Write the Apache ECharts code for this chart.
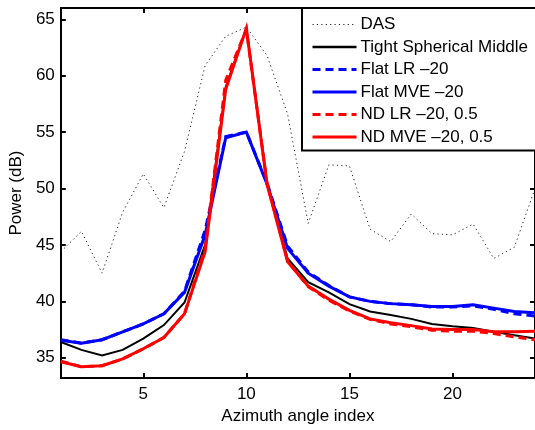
<!DOCTYPE html>
<html>
<head>
<meta charset="utf-8">
<script src="https://cdn.jsdelivr.net/npm/echarts@6/dist/echarts.min.js"></script>
<style>
html,body{margin:0;padding:0;background:#fff;}
#c{width:535px;height:430px;}
</style>
</head>
<body>
<div id="c"></div>
<script>
// ---- data ----
const azimuthIndex = [1,2,3,4,5,6,7,8,9,10,11,12,13,14,15,16,17,18,19,20,21,22,23,24];
const xTicks = [5,10,15,20];
const yTicks = [35,40,45,50,55,60,65];
const seriesNames = ['DAS','Tight Spherical Middle','Flat LR \u201320','Flat MVE \u201320','ND LR \u201320, 0.5','ND MVE \u201320, 0.5'];
const das     = [44.4,46.2,42.5,47.9,51.3,48.3,53.3,60.9,63.5,64.3,61.8,56.6,46.9,52.1,52.0,46.4,45.3,47.75,46.0,45.9,46.85,43.8,44.8,50.0];
const tight   = [36.4,35.7,35.2,35.7,36.7,37.9,39.9,45.0,59.0,64.2,50.6,43.8,41.7,40.8,39.75,39.1,38.8,38.45,38.0,37.8,37.65,37.3,37.0,36.7];
const flatLR  = [36.6,36.3,36.6,37.3,38.0,38.9,40.9,46.3,54.6,55.0,50.5,44.9,42.6,41.4,40.4,40.0,39.8,39.7,39.5,39.5,39.6,39.3,38.9,38.7];
const flatMVE = [36.55,36.3,36.6,37.3,38.0,38.9,40.8,45.9,54.5,55.0,50.4,44.7,42.5,41.35,40.4,40.0,39.8,39.7,39.55,39.55,39.7,39.4,39.1,39.0];
const ndLR    = [34.7,34.2,34.3,34.9,35.8,36.8,38.9,44.7,59.6,64.1,50.5,43.6,41.3,40.1,39.15,38.4,38.0,37.75,37.45,37.35,37.35,37.15,36.85,36.6];
const ndMVE   = [34.65,34.2,34.3,34.9,35.8,36.8,38.9,44.4,58.8,64.2,50.4,43.5,41.35,40.2,39.2,38.45,38.1,37.85,37.55,37.5,37.5,37.3,37.3,37.35];

const pairs = v => azimuthIndex.map((x, i) => [x, v[i]]);
const FONT = 'Liberation Sans, Arial, Helvetica, sans-serif';

const styles = [
  {color:'#222', width:1, legendWidth:1, type:[1.2,3.2]},
  {color:'#000', width:2, legendWidth:2.5, type:'solid'},
  {color:'#0000ff', width:3, legendWidth:3, type:[8,5]},
  {color:'#0000ff', width:3, legendWidth:3, type:'solid'},
  {color:'#ff0000', width:3, legendWidth:3, type:[8,5]},
  {color:'#ff0000', width:3, legendWidth:3, type:'solid'}
];
const values = [das, tight, flatLR, flatMVE, ndLR, ndMVE];

const axisBase = {
  axisLine:{show:true, lineStyle:{color:'#000', width:2}},
  splitLine:{show:false}
};

const chart = echarts.init(document.getElementById('c'), null, {renderer:'canvas'});
chart.setOption({
  animation:false,
  backgroundColor:'#fff',
  grid:{left:60, top:8, width:477, height:375, containLabel:false},
  textStyle:{fontFamily:FONT},
  legend:{
    orient:'vertical', left:302, top:8,
    backgroundColor:'#fff', borderColor:'#000', borderWidth:2, borderRadius:0,
    padding:[8,10,5,9], itemGap:5.5, itemWidth:44, itemHeight:17,
    itemStyle:{color:'rgba(0,0,0,0)', borderWidth:0, opacity:0},
    textStyle:{fontFamily:FONT, fontSize:17, color:'#000', padding:[0,0,0,-1]},
    data:seriesNames.map((n, i) => ({
      name:n,
      lineStyle:{width:styles[i].legendWidth, color:styles[i].color, type:styles[i].type}
    }))
  },
  xAxis:[
    Object.assign({}, axisBase, {
      type:'value', min:1, max:24, position:'bottom',
      name:'Azimuth angle index', nameLocation:'middle', nameGap:28,
      nameTextStyle:{fontFamily:FONT, fontSize:17, color:'#000'},
      axisTick:{show:true, inside:true, length:5, lineStyle:{color:'#000', width:2}, customValues:xTicks},
      axisLabel:{show:true, color:'#000', fontFamily:FONT, fontSize:17, margin:8, customValues:xTicks}
    }),
    Object.assign({}, axisBase, {
      type:'value', min:1, max:24, position:'top',
      axisTick:{show:true, inside:true, length:5, lineStyle:{color:'#000', width:2}, customValues:xTicks},
      axisLabel:{show:false}
    })
  ],
  yAxis:[
    Object.assign({}, axisBase, {
      type:'value', min:33.2, max:66, position:'left',
      name:'Power (dB)', nameLocation:'middle', nameGap:30, nameRotate:90,
      nameTextStyle:{fontFamily:FONT, fontSize:17, color:'#000'},
      axisTick:{show:true, inside:true, length:5, lineStyle:{color:'#000', width:2}, customValues:yTicks},
      axisLabel:{show:true, color:'#000', fontFamily:FONT, fontSize:17, margin:6, customValues:yTicks}
    }),
    Object.assign({}, axisBase, {
      type:'value', min:33.2, max:66, position:'right',
      axisTick:{show:true, inside:true, length:5, lineStyle:{color:'#000', width:2}, customValues:yTicks},
      axisLabel:{show:false}
    })
  ],
  series: values.map((v, i) => ({
    name: seriesNames[i],
    type:'line',
    xAxisIndex:0, yAxisIndex:0,
    data: pairs(v),
    symbol:'none',
    smooth:false,
    z: 2 + i,
    lineStyle:{color:styles[i].color, width:styles[i].width, type:styles[i].type, cap:'butt', join:'miter'},
    itemStyle:{color:styles[i].color}
  }))
});
</script>
</body>
</html>
